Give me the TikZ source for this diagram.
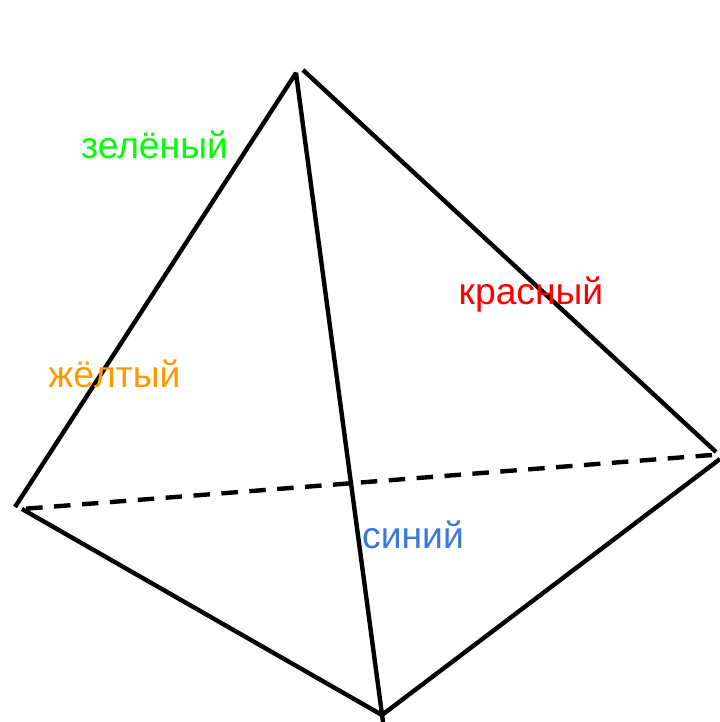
\documentclass[tikz,border=0pt]{standalone}
\usepackage{fontspec}
\setmainfont{Liberation Sans}
\usepackage{tikz}
\definecolor{zel}{HTML}{00FF00}
\definecolor{zhel}{HTML}{FF9900}
\definecolor{kra}{HTML}{FF0000}
\definecolor{sin}{HTML}{3C78D8}
\tikzset{
  edge/.style={line width=1.25pt, line cap=butt, line join=bevel},
  hidden/.style={edge, dash pattern=on 4.7pt off 3.26pt},
  lbl/.style={font=\fontsize{10.6pt}{12pt}\selectfont, inner sep=0pt}
}

\begin{document}
\begin{tikzpicture}
  \useasboundingbox (0,0) rectangle (7.20,7.22);
  \coordinate (apex) at (2.96,6.49);
  \coordinate (apexr) at (3.03,6.52);
  \coordinate (left) at (0.15,2.15);
  \coordinate (leftd) at (0.22,2.13);
  \coordinate (bot) at (3.82,0.07);
  \coordinate (botc) at (3.83,0.00);
  \coordinate (right) at (7.16,2.70);
  \coordinate (rightd) at (7.12,2.67);
  \coordinate (rightb) at (7.20,2.63);
  \draw[edge] (left) -- (apex) -- (botc);
  \draw[edge] (apexr) -- (right);
  \draw[edge] (leftd) -- (bot) -- (rightb);
  \draw[hidden] (rightd) -- (leftd);
  % подписи граней
  \node[lbl, zel] (zeleny) at (1.545,5.77) {зелёный};
  \node[lbl, zhel] (zhelty) at (1.145,3.48) {жёлтый};
  \node[lbl, kra] (krasny) at (5.31,4.27) {красный};
  \node[lbl, sin] (siniy) at (4.13,1.87) {синий};
\end{tikzpicture}
\end{document}
